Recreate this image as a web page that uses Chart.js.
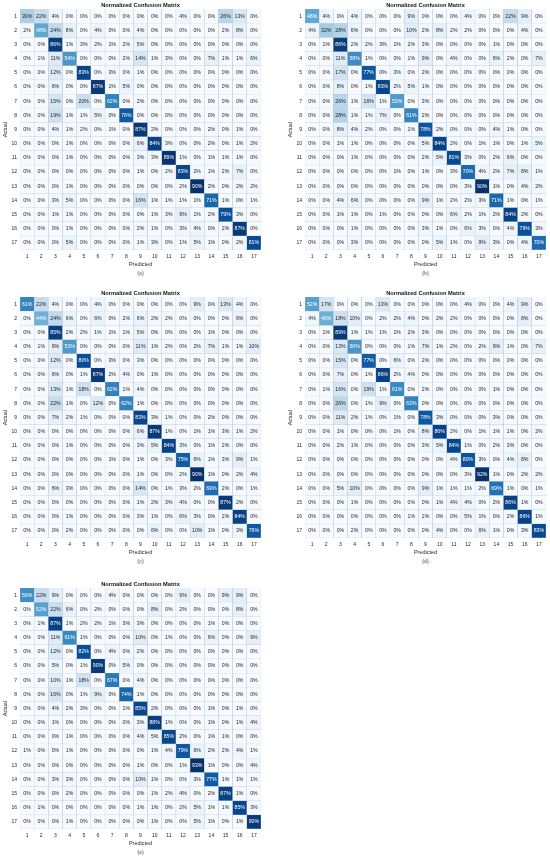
<!DOCTYPE html>
<html>
<head>
<meta charset="utf-8">
<title>Normalized Confusion Matrix</title>
<script src="https://cdn.jsdelivr.net/npm/chart.js@4/dist/chart.umd.min.js"></script>
<style>
  html, body { margin: 0; padding: 0; background: #fff; }
  #page { position: relative; width: 550px; height: 858px; overflow: hidden; }
  #page canvas { position: absolute; }
  .cap { position: absolute; width: 40px; text-align: center; font: 5.5px "Liberation Serif", serif; color: #333; }
</style>
</head>
<body>
<div id="page"></div>
<script>
const classLabels = ["1", "2", "3", "4", "5", "6", "7", "8", "9", "10", "11", "12", "13", "14", "15", "16", "17"];
const chartTitle = "Normalized Confusion Matrix";
const blues = ["#f7fbff", "#deebf7", "#c6dbef", "#9ecae1", "#6baed6", "#4292c6", "#2171b5", "#08519c", "#08306b"];

const matrixA = [
  [30, 22, 4, 0, 0, 0, 0, 0, 0, 0, 0, 4, 0, 0, 26, 13, 0],
  [2, 48, 24, 8, 0, 4, 0, 0, 4, 0, 0, 0, 0, 0, 2, 8, 0],
  [0, 0, 86, 1, 3, 2, 1, 2, 5, 0, 0, 0, 0, 0, 0, 0, 0],
  [0, 1, 11, 54, 0, 0, 0, 2, 14, 1, 3, 0, 0, 7, 1, 1, 6],
  [0, 0, 12, 0, 83, 0, 3, 0, 1, 0, 0, 0, 0, 0, 0, 0, 0],
  [0, 0, 6, 0, 0, 87, 1, 5, 0, 0, 0, 0, 0, 0, 0, 0, 0],
  [0, 0, 15, 0, 20, 0, 62, 0, 2, 0, 0, 0, 0, 0, 0, 0, 0],
  [0, 0, 19, 1, 1, 5, 0, 76, 0, 0, 0, 0, 0, 0, 0, 0, 0],
  [0, 0, 4, 1, 2, 0, 1, 0, 87, 2, 0, 0, 0, 2, 0, 1, 0],
  [0, 0, 0, 1, 0, 0, 0, 0, 6, 84, 3, 0, 0, 2, 0, 1, 2],
  [0, 0, 0, 1, 0, 0, 0, 0, 3, 3, 89, 1, 0, 1, 1, 1, 0],
  [0, 0, 0, 0, 0, 0, 0, 0, 1, 0, 2, 83, 2, 1, 2, 7, 0],
  [0, 0, 0, 1, 0, 0, 0, 0, 0, 0, 0, 2, 90, 2, 0, 2, 2],
  [0, 0, 3, 5, 0, 0, 0, 0, 16, 1, 1, 1, 1, 71, 1, 0, 1],
  [0, 0, 1, 1, 0, 0, 0, 0, 0, 1, 3, 9, 1, 2, 79, 3, 0],
  [0, 0, 0, 1, 0, 0, 0, 0, 2, 1, 0, 3, 4, 0, 2, 87, 0],
  [0, 0, 0, 5, 0, 0, 0, 0, 1, 3, 0, 1, 5, 1, 0, 2, 81],
];
const matrixB = [
  [48, 4, 0, 4, 0, 0, 0, 9, 0, 0, 0, 4, 0, 0, 22, 9, 0],
  [4, 32, 28, 6, 0, 0, 0, 10, 2, 8, 2, 2, 0, 0, 0, 4, 0],
  [0, 1, 86, 2, 2, 3, 1, 2, 3, 0, 0, 0, 0, 1, 0, 0, 0],
  [0, 0, 11, 58, 1, 0, 0, 1, 9, 0, 4, 0, 0, 6, 2, 0, 7],
  [0, 0, 17, 0, 77, 0, 3, 0, 2, 0, 0, 0, 0, 0, 0, 0, 0],
  [0, 0, 8, 0, 1, 83, 2, 5, 1, 0, 0, 0, 0, 0, 0, 0, 0],
  [0, 0, 26, 1, 16, 1, 53, 0, 3, 0, 0, 0, 0, 0, 0, 0, 0],
  [0, 0, 28, 1, 1, 7, 0, 61, 2, 0, 0, 0, 0, 0, 0, 0, 0],
  [0, 0, 8, 4, 2, 0, 0, 1, 78, 2, 0, 0, 0, 4, 1, 0, 0],
  [0, 0, 1, 1, 0, 0, 0, 0, 5, 84, 2, 0, 1, 1, 0, 1, 5],
  [0, 0, 0, 1, 0, 0, 0, 0, 2, 5, 81, 3, 0, 2, 6, 0, 0],
  [0, 0, 0, 0, 0, 0, 1, 0, 1, 0, 3, 70, 4, 2, 7, 8, 1],
  [0, 0, 0, 0, 0, 0, 0, 0, 0, 0, 0, 3, 90, 1, 0, 4, 2],
  [0, 0, 4, 6, 0, 0, 0, 0, 9, 1, 2, 2, 3, 71, 1, 0, 1],
  [0, 0, 1, 1, 0, 1, 0, 0, 0, 0, 6, 2, 1, 2, 84, 2, 0],
  [0, 0, 0, 1, 0, 0, 0, 0, 3, 1, 0, 6, 3, 0, 4, 79, 3],
  [0, 0, 0, 3, 0, 0, 0, 0, 0, 5, 1, 0, 9, 3, 0, 4, 70],
];
const matrixC = [
  [61, 22, 4, 0, 0, 4, 0, 0, 0, 0, 0, 0, 9, 0, 13, 4, 0],
  [0, 44, 24, 6, 0, 6, 0, 2, 6, 2, 2, 0, 0, 0, 0, 6, 0],
  [0, 0, 85, 2, 2, 1, 1, 1, 5, 0, 0, 0, 0, 1, 0, 0, 0],
  [0, 1, 9, 53, 0, 0, 0, 0, 11, 1, 2, 0, 2, 7, 1, 1, 10],
  [0, 0, 12, 0, 80, 0, 3, 0, 3, 0, 0, 0, 0, 0, 0, 0, 0],
  [0, 0, 6, 0, 1, 87, 2, 4, 0, 1, 0, 0, 0, 0, 0, 0, 0],
  [0, 0, 13, 1, 18, 0, 62, 1, 4, 0, 0, 0, 0, 0, 0, 0, 0],
  [0, 0, 22, 1, 0, 12, 0, 62, 1, 0, 0, 0, 0, 0, 0, 0, 0],
  [0, 0, 7, 2, 1, 0, 0, 0, 83, 3, 1, 0, 0, 2, 0, 0, 0],
  [0, 0, 0, 0, 0, 0, 0, 0, 6, 87, 1, 0, 1, 1, 3, 1, 2],
  [0, 0, 0, 1, 0, 0, 0, 0, 3, 5, 84, 3, 0, 1, 2, 0, 0],
  [0, 0, 0, 0, 0, 0, 1, 0, 1, 0, 3, 75, 6, 1, 3, 9, 1],
  [0, 0, 0, 0, 0, 0, 0, 0, 1, 0, 0, 2, 90, 1, 0, 2, 4],
  [0, 0, 6, 3, 0, 0, 0, 0, 14, 0, 1, 3, 2, 69, 2, 0, 1],
  [0, 0, 0, 0, 0, 0, 0, 0, 1, 2, 3, 4, 0, 0, 87, 2, 0],
  [0, 0, 0, 1, 0, 0, 0, 0, 3, 1, 0, 6, 3, 0, 2, 84, 0],
  [0, 0, 0, 2, 0, 0, 0, 0, 0, 6, 0, 0, 10, 1, 0, 3, 76],
];
const matrixD = [
  [52, 17, 0, 0, 0, 13, 0, 0, 0, 0, 0, 4, 0, 0, 4, 9, 0],
  [4, 46, 18, 10, 0, 2, 2, 4, 0, 2, 2, 0, 0, 0, 0, 8, 0],
  [0, 1, 89, 1, 1, 1, 1, 2, 3, 0, 0, 0, 0, 0, 0, 0, 0],
  [0, 0, 13, 56, 0, 0, 0, 1, 7, 1, 2, 0, 2, 9, 1, 0, 7],
  [0, 0, 15, 0, 77, 0, 6, 0, 2, 0, 0, 0, 0, 0, 0, 0, 0],
  [0, 0, 7, 0, 1, 86, 2, 4, 0, 0, 0, 0, 0, 0, 0, 0, 0],
  [0, 1, 16, 0, 19, 1, 61, 0, 2, 0, 0, 0, 0, 1, 0, 0, 0],
  [0, 0, 26, 0, 1, 9, 0, 63, 0, 0, 0, 0, 0, 0, 0, 0, 0],
  [0, 0, 11, 2, 1, 0, 1, 0, 78, 3, 0, 0, 0, 3, 0, 0, 0],
  [0, 0, 1, 0, 0, 0, 1, 0, 8, 86, 2, 0, 1, 1, 1, 0, 2],
  [0, 0, 2, 1, 0, 0, 0, 0, 3, 5, 84, 1, 0, 2, 3, 0, 0],
  [0, 0, 0, 0, 0, 0, 0, 0, 0, 0, 4, 80, 3, 0, 4, 8, 0],
  [0, 0, 0, 0, 0, 0, 0, 0, 0, 0, 0, 3, 92, 1, 0, 2, 2],
  [0, 0, 5, 10, 0, 0, 0, 0, 9, 1, 1, 1, 2, 69, 1, 0, 1],
  [0, 0, 0, 1, 0, 0, 0, 0, 0, 1, 4, 4, 0, 2, 86, 1, 0],
  [0, 0, 0, 0, 0, 0, 0, 1, 2, 0, 0, 5, 1, 0, 2, 86, 1],
  [0, 0, 0, 2, 0, 0, 0, 0, 0, 4, 0, 0, 6, 1, 0, 3, 83],
];
const matrixE = [
  [59, 22, 9, 0, 0, 0, 4, 0, 0, 0, 0, 9, 0, 0, 9, 9, 0],
  [0, 52, 22, 6, 0, 2, 0, 0, 0, 8, 0, 2, 0, 0, 0, 8, 0],
  [0, 1, 87, 1, 2, 2, 1, 3, 3, 0, 0, 0, 0, 1, 0, 0, 0],
  [0, 0, 11, 61, 1, 0, 0, 0, 10, 0, 1, 0, 0, 6, 0, 0, 9],
  [0, 0, 12, 0, 82, 0, 4, 0, 2, 0, 0, 0, 0, 0, 0, 0, 0],
  [0, 0, 5, 0, 1, 90, 0, 5, 0, 0, 0, 0, 0, 0, 0, 0, 0],
  [0, 0, 10, 1, 18, 0, 67, 0, 4, 0, 0, 0, 0, 0, 0, 0, 0],
  [0, 0, 16, 0, 1, 9, 0, 74, 1, 0, 0, 0, 0, 0, 0, 0, 0],
  [0, 0, 4, 2, 3, 0, 0, 1, 85, 2, 0, 0, 0, 1, 0, 1, 0],
  [0, 0, 1, 0, 0, 0, 0, 0, 3, 88, 1, 0, 0, 1, 0, 1, 4],
  [0, 0, 0, 1, 0, 0, 0, 0, 4, 5, 85, 2, 0, 1, 1, 0, 0],
  [1, 0, 0, 1, 0, 0, 0, 0, 0, 1, 4, 79, 6, 2, 2, 4, 1],
  [0, 0, 0, 0, 0, 0, 0, 0, 1, 0, 0, 1, 93, 1, 0, 0, 4],
  [0, 0, 3, 3, 0, 0, 0, 0, 10, 1, 0, 0, 3, 77, 1, 1, 1],
  [0, 0, 0, 2, 0, 0, 0, 0, 0, 1, 2, 4, 0, 2, 87, 1, 0],
  [0, 1, 0, 0, 0, 0, 0, 0, 1, 1, 0, 2, 5, 1, 1, 85, 3],
  [0, 0, 0, 1, 0, 0, 0, 0, 0, 1, 0, 0, 5, 1, 0, 1, 90],
];

const panels = [
  { id: "a", rows: matrixA, left: 0, top: 0 },
  { id: "b", rows: matrixB, left: 285, top: 0 },
  { id: "c", rows: matrixC, left: 0, top: 288 },
  { id: "d", rows: matrixD, left: 285, top: 288 },
  { id: "e", rows: matrixE, left: 0, top: 579 },
];

const INK = "#262626";
const FONT = "'Liberation Sans', Arial, sans-serif";

// same idea as matplotlib's Blues, scaled to the biggest value of the matrix
function bluesColor(t) {
  const p = Math.min(Math.max(t, 0), 1) * (blues.length - 1);
  const i = Math.min(Math.floor(p), blues.length - 2);
  const a = parseInt(blues[i].slice(1), 16);
  const b = parseInt(blues[i + 1].slice(1), 16);
  const mix = (shift) => {
    const ca = (a >> shift) & 255;
    const cb = (b >> shift) & 255;
    return Math.round(ca + (cb - ca) * (p - i));
  };
  return `rgb(${mix(16)},${mix(8)},${mix(0)})`;
}

const cellLabels = {
  id: "cellLabels",
  afterDatasetsDraw(chart) {
    const { ctx } = chart;
    const rows = chart.options.plugins.cellLabels.rows;
    const vmax = Math.max(...rows.flat());
    ctx.save();
    ctx.font = `5.2px ${FONT}`;
    ctx.textAlign = "center";
    ctx.textBaseline = "middle";
    rows.forEach((row, r) => {
      const bars = chart.getDatasetMeta(r).data;
      row.forEach((v, c) => {
        const pt = bars[c].getCenterPoint();
        ctx.fillStyle = v / vmax > 0.42 ? "#ffffff" : INK;
        ctx.fillText(`${v}%`, pt.x, pt.y);
      });
    });
    ctx.restore();
  },
};

function drawPanel(p) {
  const canvas = document.createElement("canvas");
  canvas.width = 265;
  canvas.height = 268;
  canvas.style.left = `${p.left}px`;
  canvas.style.top = `${p.top}px`;
  canvas.style.width = "265px";
  canvas.style.height = "268px";
  document.getElementById("page").appendChild(canvas);

  const vmax = Math.max(...p.rows.flat());
  const datasets = p.rows.map((row, r) => ({
    label: classLabels[r],
    data: row.map(() => [r + 0.5, r + 1.5]),
    backgroundColor: row.map((v) => bluesColor(v / vmax)),
    borderColor: "rgba(150,165,185,0.55)",
    borderWidth: 0.5,
    barPercentage: 1,
    categoryPercentage: 1,
  }));

  new Chart(canvas, {
    type: "bar",
    data: { labels: classLabels, datasets },
    options: {
      responsive: false,
      animation: false,
      events: [],
      devicePixelRatio: 1,
      layout: { padding: { right: 4 } },
      datasets: { bar: { grouped: false } },
      plugins: {
        legend: { display: false },
        tooltip: { enabled: false },
        title: {
          display: true,
          fullSize: false,
          text: chartTitle,
          color: "#111",
          font: { family: FONT, size: 5.7, weight: "bold", lineHeight: 1.2 },
          padding: { top: 1.8, bottom: 0.4 },
        },
        cellLabels: { rows: p.rows },
      },
      scales: {
        x: {
          grid: { display: false, drawTicks: false },
          border: { display: false },
          ticks: { color: INK, font: { family: FONT, size: 5 }, padding: 4, maxRotation: 0, autoSkip: false },
          title: { display: true, text: "Predicted", color: INK, font: { family: FONT, size: 5.5 }, padding: { top: 1, bottom: 0 } },
          afterFit: (s) => { s.height = 18; },
        },
        y: {
          reverse: true,
          min: 0.5,
          max: 17.5,
          grid: { display: false, drawTicks: false },
          border: { display: false },
          afterBuildTicks: (s) => { s.ticks = classLabels.map((l) => ({ value: Number(l) })); },
          ticks: { color: INK, font: { family: FONT, size: 5 }, padding: 3, autoSkip: false },
          title: { display: true, text: "Actual", color: INK, font: { family: FONT, size: 5.5 }, padding: { top: 2, bottom: 0 } },
          afterFit: (s) => { s.width = 20; },
        },
      },
    },
    plugins: [cellLabels],
  });

  const cap = document.createElement("div");
  cap.className = "cap";
  cap.textContent = `(${p.id})`;
  cap.style.left = `${p.left + 120.5}px`;
  cap.style.top = `${p.top + 270}px`;
  document.getElementById("page").appendChild(cap);
}

panels.forEach(drawPanel);
</script>
</body>
</html>
